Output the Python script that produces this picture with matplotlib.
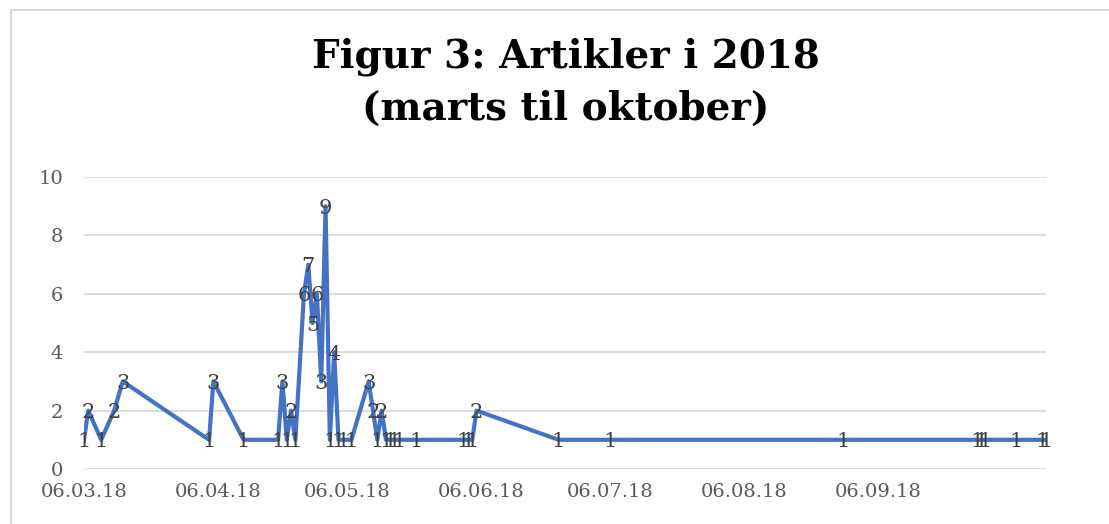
import pandas as pd
import matplotlib
matplotlib.use("Agg")
import matplotlib.pyplot as plt
import matplotlib.dates as mdates
from matplotlib.patches import Rectangle

dates = ["2018-03-06", "2018-03-07", "2018-03-10", "2018-03-13", "2018-03-15",
         "2018-04-04", "2018-04-05", "2018-04-12", "2018-04-20", "2018-04-21",
         "2018-04-22", "2018-04-23", "2018-04-24", "2018-04-26", "2018-04-27",
         "2018-04-28", "2018-04-29", "2018-04-30", "2018-05-01", "2018-05-02",
         "2018-05-03", "2018-05-04", "2018-05-05", "2018-05-07", "2018-05-11",
         "2018-05-12", "2018-05-13", "2018-05-14", "2018-05-15", "2018-05-16",
         "2018-05-17", "2018-05-18", "2018-05-22", "2018-06-02", "2018-06-03",
         "2018-06-04", "2018-06-05", "2018-06-24", "2018-07-06", "2018-08-29",
         "2018-09-29", "2018-09-30", "2018-10-01", "2018-10-08", "2018-10-14",
         "2018-10-15"]
articles = [1, 2, 1, 2, 3,
            1, 3, 1, 1, 3,
            1, 2, 1, 6, 7,
            5, 6, 3, 9, 1,
            4, 1, 1, 1, 3,
            2, 1, 2, 1, 1,
            1, 1, 1, 1, 1,
            1, 2, 1, 1, 1,
            1, 1, 1, 1, 1,
            1]
tick_dates = ["2018-03-06", "2018-04-06", "2018-05-06", "2018-06-06",
              "2018-07-06", "2018-08-06", "2018-09-06"]
y_ticks = [0, 2, 4, 6, 8, 10]

plt.rcParams['font.family'] = ['DejaVu Serif']

x = pd.to_datetime(dates)

fig = plt.figure(figsize=(11.09, 5.24), dpi=100)
ax = fig.add_axes([0.0757, 0.105, 0.8675, 0.557])

# chart border (light gray frame, like the excel chart area)
fig.patches.append(Rectangle((11 / 1109, -0.1), 1.2, 1 - 10 / 524 + 0.1,
                             transform=fig.transFigure, fill=False,
                             edgecolor='#d9d9d9', linewidth=1.5))

ax.plot(x, articles, color='#4472C4', linewidth=3, zorder=3)
for d, v in zip(x, articles):
    ax.text(d, v, str(v), ha='center', va='center_baseline', fontsize=15,
            color='#404040', zorder=4)

ax.set_xlim(x.min(), x.max())
ax.set_ylim(0, 10)
ax.set_yticks(y_ticks)
ax.set_xticks(pd.to_datetime(tick_dates))
ax.xaxis.set_major_formatter(mdates.DateFormatter('%d.%m.%y'))
ax.tick_params(axis='both', length=0, labelsize=14, labelcolor='#595959')
ax.tick_params(axis='y', pad=15)
ax.tick_params(axis='x', pad=10)
ax.grid(axis='y', color='#d9d9d9', linewidth=1.3)
ax.set_axisbelow(True)
for s in ax.spines.values():
    s.set_visible(False)

fig.text(0.51, 1 - 67 / 524, 'Figur 3: Artikler i 2018', ha='center',
         va='baseline', fontsize=28, fontweight='bold', color='black')
fig.text(0.51, 1 - 120 / 524, '(marts til oktober)', ha='center',
         va='baseline', fontsize=28, fontweight='bold', color='black')

fig.savefig('out.png', dpi=100)
